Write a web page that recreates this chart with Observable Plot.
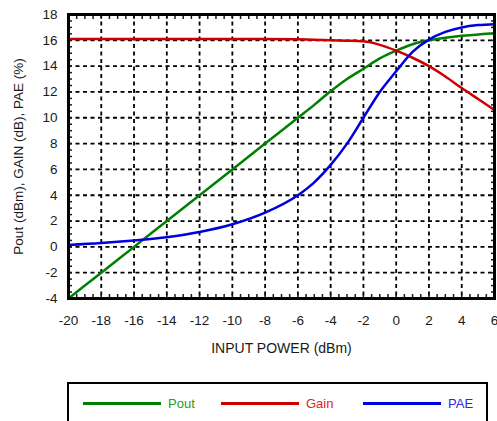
<!DOCTYPE html>
<html>
<head>
<meta charset="utf-8">
<script src="https://cdn.jsdelivr.net/npm/d3@7"></script>
<script src="https://cdn.jsdelivr.net/npm/@observablehq/plot@0.6"></script>
<style>
  body { margin: 0; background: #fff; font-family: "Liberation Sans", Arial, sans-serif; }
  #legend { position: absolute; left: 67px; top: 382px; width: 417px; height: 60px; border: 2px solid #000; box-sizing: content-box; }
  .item { position: absolute; top: 12px; font-size: 13px; display: flex; align-items: center; }
  .item span.line { display: inline-block; width: 78px; height: 3px; margin-right: 7px; }
</style>
</head>
<body>
<div id="chart"></div>
<div id="legend"></div>
<script>
const pin  = [-20, -18, -16, -14, -12, -10, -8, -6, -5, -4, -3, -2, -1, 0, 1, 2, 3, 4, 5, 6];
const pout = [-4.0, -2.0, 0.0, 2.0, 4.0, 6.0, 8.0, 10.0, 11.0, 12.05, 13.0, 13.8, 14.6, 15.2, 15.7, 16.0, 16.2, 16.35, 16.45, 16.55];
const gain = [16.1, 16.1, 16.1, 16.1, 16.1, 16.1, 16.1, 16.08, 16.05, 16.0, 15.97, 15.92, 15.65, 15.2, 14.65, 14.0, 13.2, 12.3, 11.45, 10.6];
const pae  = [0.15, 0.3, 0.5, 0.75, 1.15, 1.75, 2.65, 4.0, 5.0, 6.35, 8.0, 10.0, 12.0, 13.6, 15.1, 16.05, 16.65, 17.0, 17.18, 17.25];
const xTicks = [-20, -18, -16, -14, -12, -10, -8, -6, -4, -2, 0, 2, 4, 6];
const yTicks = [-4, -2, 0, 2, 4, 6, 8, 10, 12, 14, 16, 18];
const seriesNames = ["Pout", "Gain", "PAE"];
const seriesColors = ["#008000", "#cc0000", "#0000dd"];
const legendTextColors = ["#2a9a2a", "#d42a2a", "#2a2ae6"];

const rows = [];
[pout, gain, pae].forEach((vals, i) => {
  pin.forEach((x, j) => rows.push({series: seriesNames[i], x, y: vals[j]}));
});

const minorX = d3.range(-20, 6.001, 0.5);
const minorY = d3.range(-4, 18.001, 0.5);
const fmt = d => String(d);

const chart = Plot.plot({
  width: 497,
  height: 365,
  marginLeft: 68,
  marginRight: 3,
  marginTop: 14,
  marginBottom: 67,
  style: {fontFamily: "Liberation Sans, Arial, sans-serif", fontSize: "13px", color: "#1a1a1a"},
  x: {domain: [-20, 6]},
  y: {domain: [-4, 18]},
  color: {domain: seriesNames, range: seriesColors},
  marks: [
    Plot.gridX(xTicks.slice(1, -1), {stroke: "#000", strokeOpacity: 1, strokeWidth: 1.8, strokeDasharray: "4,3.5"}),
    Plot.gridY(yTicks.slice(1, -1), {stroke: "#000", strokeOpacity: 1, strokeWidth: 1.8, strokeDasharray: "4,3.5"}),
    Plot.axisX(minorX, {anchor: "bottom", tickSize: -4, strokeWidth: 1.5, text: null, label: null}),
    Plot.axisX(minorX, {anchor: "top", tickSize: -4, strokeWidth: 1.5, text: null, label: null}),
    Plot.axisY(minorY, {anchor: "left", tickSize: -4, strokeWidth: 1.5, text: null, label: null}),
    Plot.axisY(minorY, {anchor: "right", tickSize: -4, strokeWidth: 1.5, text: null, label: null}),
    Plot.axisX(xTicks, {anchor: "bottom", tickSize: 0, tickPadding: 17, fontSize: 13.5, tickFormat: fmt, label: null}),
    Plot.axisX({anchor: "bottom", ticks: [], tickSize: 0, fontSize: 14, label: "INPUT POWER (dBm)", labelAnchor: "center", labelArrow: "none", labelOffset: 54}),
    Plot.axisY(yTicks, {anchor: "left", tickSize: 0, tickPadding: 11, fontSize: 13.5, tickFormat: fmt, label: "Pout (dBm), GAIN (dB), PAE (%)", labelAnchor: "center", labelArrow: "none", labelOffset: 55}),
    Plot.line(rows, {x: "x", y: "y", stroke: "series", z: "series", strokeWidth: 2.5, curve: "monotone-x"}),
    Plot.frame({stroke: "#000", strokeWidth: 3})
  ]
});
document.getElementById("chart").appendChild(chart);

const legend = document.getElementById("legend");
const lefts = [14, 152, 294];
seriesNames.forEach((name, i) => {
  const d = document.createElement("div");
  d.className = "item";
  d.style.left = lefts[i] + "px";
  d.innerHTML = `<span class="line" style="background:${seriesColors[i]}"></span><span style="color:${legendTextColors[i]}">${name}</span>`;
  legend.appendChild(d);
});
</script>
</body>
</html>
